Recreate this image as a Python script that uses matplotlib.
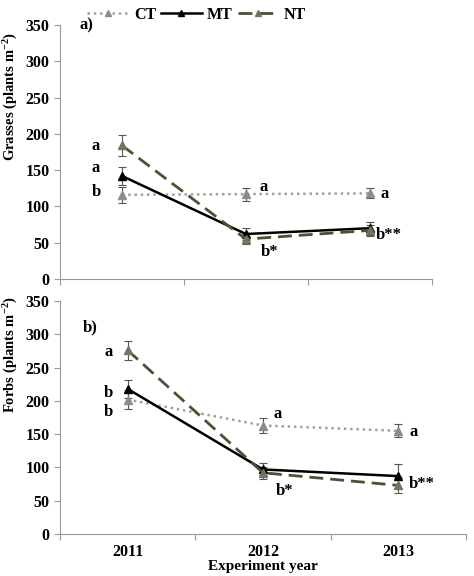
import matplotlib
matplotlib.use("Agg")
import matplotlib.pyplot as plt
from matplotlib.lines import Line2D
import numpy as np

years = ["2011", "2012", "2013"]
series = ["CT", "MT", "NT"]

# Grasses (plants m-2)
grass_ct = [116, 117, 118]
grass_ct_err = [11, 9, 7]
grass_mt = [142, 62, 70]
grass_mt_err = [12, 8, 9]
grass_nt = [184, 55, 67]
grass_nt_err = [14, 7, 8]

# Forbs (plants m-2)
forb_ct = [202, 163, 155]
forb_ct_err = [14, 12, 10]
forb_mt = [218, 97, 87]
forb_mt_err = [13, 9, 18]
forb_nt = [276, 92, 73]
forb_nt_err = [14, 9, 12]

# letters: (text, x in category units, y value)
grass_letters = [("a", 0.29, 183), ("a", 0.29, 153), ("b", 0.29, 120),
                 ("a", 1.64, 127), ("a", 2.62, 117),
                 ("b*", 1.69, 37), ("b**", 2.65, 61)]
forb_letters = [("a", 0.36, 273), ("b", 0.36, 212), ("b", 0.36, 183),
                ("a", 1.61, 180), ("a", 2.61, 153),
                ("b*", 1.66, 65), ("b**", 2.67, 75)]

plt.rcParams["font.family"] = ["Liberation Serif", "DejaVu Serif"]
plt.rcParams["font.weight"] = "bold"
plt.rcParams["mathtext.fontset"] = "custom"
plt.rcParams["mathtext.rm"] = "Liberation Serif:bold"
plt.rcParams["mathtext.bf"] = "Liberation Serif:bold"
plt.rcParams["mathtext.it"] = "Liberation Serif:bold"

FS = 11.5

styles = {
    "CT": dict(color="#a0a0a0", ls=(0, (1, 1.5)), lw=1.8, mfc="#8c8c8c", mec="#8c8c8c"),
    "MT": dict(color="black", ls="-", lw=1.8, mfc="black", mec="black"),
    "NT": dict(color="#4b5234", ls=(0, (5, 2.5)), lw=2.0, mfc="#6f765f", mec="#6f765f"),
}

fig = plt.figure(figsize=(4.74, 5.76), dpi=100)
ax1 = fig.add_axes([0.1266, 0.5156, 0.7844, 0.441])
ax2 = fig.add_axes([0.1266, 0.0729, 0.8564, 0.4045])

x = np.arange(len(years)) + 0.5


def draw(ax, data, letters, ylabel, label_xy):
    for name, (vals, errs) in zip(series, data):
        st = styles[name]
        ax.errorbar(x, vals, yerr=errs, color=st["color"], ls=st["ls"], lw=st["lw"],
                    marker="^", ms=5.5, mfc=st["mfc"], mec=st["mec"],
                    ecolor="#555555", elinewidth=0.8, capsize=3, capthick=0.8)
    for txt, tx, ty in letters:
        ax.text(tx, ty, txt, ha="center", va="center", fontsize=12, fontweight="bold")
    ax.set_xlim(0, 3)
    ax.set_ylim(0, 350)
    ax.set_yticks(range(0, 351, 50))
    ax.set_xticks([0, 1, 2, 3])
    ax.set_xticklabels([])
    ax.set_xticks(x, minor=True)
    ax.tick_params(axis="x", which="minor", length=0)
    ax.tick_params(axis="both", which="major", direction="out", length=4,
                   color="#999999", labelsize=FS)
    for s in ["top", "right"]:
        ax.spines[s].set_visible(False)
    for s in ["left", "bottom"]:
        ax.spines[s].set_color("#999999")
    ax.set_ylabel(ylabel, fontsize=10.5, fontweight="bold")
    ax.yaxis.set_label_coords(*label_xy)
    for lab in ax.get_yticklabels():
        lab.set_fontweight("bold")


draw(ax1, [(grass_ct, grass_ct_err), (grass_mt, grass_mt_err), (grass_nt, grass_nt_err)],
     grass_letters, "Grasses (plants m$^{-2}$)", (-0.107, 0.72))
draw(ax2, [(forb_ct, forb_ct_err), (forb_mt, forb_mt_err), (forb_nt, forb_nt_err)],
     forb_letters, "Forbs (plants m$^{-2}$)", (-0.098, 0.77))

ax1.text(0.16, 350, "a)", ha="left", va="center", fontsize=12, fontweight="bold")
ax2.text(0.17, 311, "b)", ha="left", va="center", fontsize=12, fontweight="bold")

ax2.set_xticklabels(years, minor=True, fontsize=FS, fontweight="bold")
ax2.tick_params(axis="x", which="minor", pad=7)
ax2.set_xlabel("Experiment year", fontsize=11, fontweight="bold", labelpad=0)

handles = [Line2D([], [], color=styles[n]["color"], ls=styles[n]["ls"], lw=styles[n]["lw"],
                  marker="^", ms=5, mfc=styles[n]["mfc"], mec=styles[n]["mec"])
           for n in series]
fig.legend(handles, series, loc="center", bbox_to_anchor=(0.415, 0.974), ncol=3,
           frameon=False, handlelength=2.6, columnspacing=0.3, handletextpad=0.3,
           prop={"family": "Liberation Serif", "weight": "bold", "size": 11.5})

fig.savefig("out.png", dpi=100)
